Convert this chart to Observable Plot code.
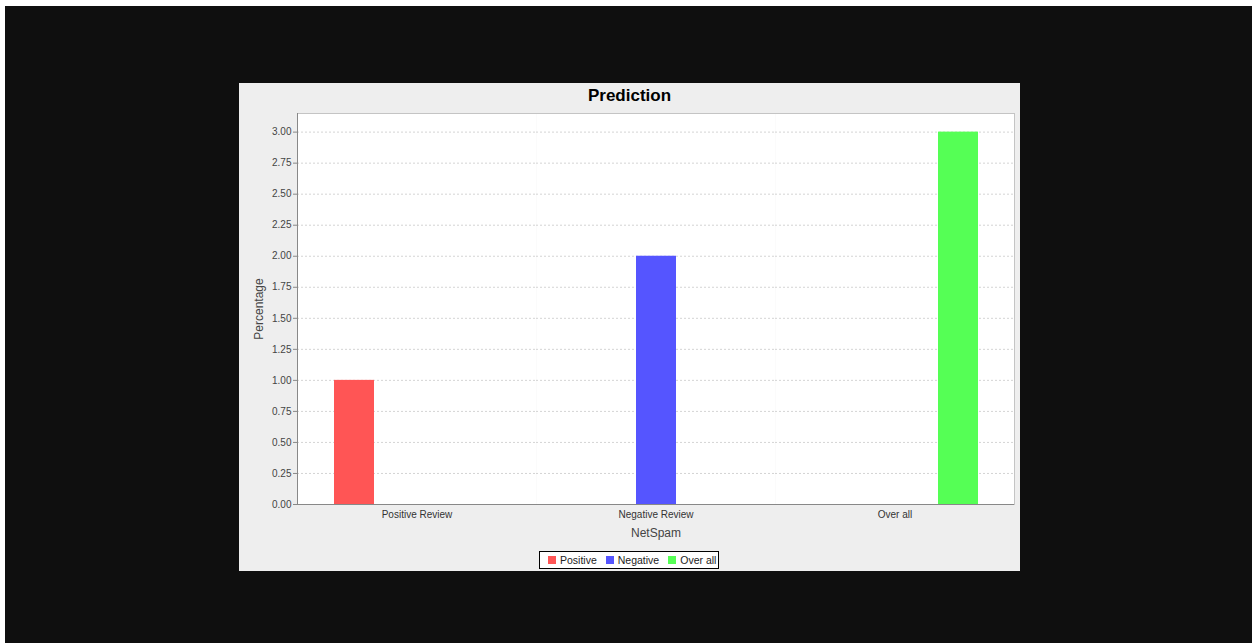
<!DOCTYPE html>
<html>
<head>
<meta charset="utf-8">
<script src="https://cdn.jsdelivr.net/npm/d3@7"></script>
<script src="https://cdn.jsdelivr.net/npm/@observablehq/plot@0.6"></script>
<style>
  html, body { margin: 0; padding: 0; background: #ffffff; width: 1252px; height: 643px; overflow: hidden; }
  #bg { position: absolute; left: 5px; top: 6px; width: 1247px; height: 637px; background: #0f0f0f; }
  #panel { position: absolute; left: 239px; top: 83px; width: 781px; height: 488px; background: #eeeeee; }
  #title { position: absolute; left: 0; top: 0; width: 781px; text-align: center; font: bold 17px "Liberation Sans", Arial, sans-serif; line-height: 26px; color: #000; }
  #chart { position: absolute; left: 0; top: 26px; }
  #legend { position: absolute; left: 300px; top: 468px; width: 178px; height: 16px; border: 1px solid #000; background: #ffffff;
            display: flex; align-items: center; font: 10.5px "Liberation Sans", Arial, sans-serif; color: #222; box-sizing: content-box; white-space: nowrap; }
  .item { display: flex; align-items: center; margin-left: 9px; white-space: nowrap; }
  .item:first-child { margin-left: 8px; }
  .sw { width: 8px; height: 8px; margin-right: 4px; flex: none; }
  g[aria-label="y-axis label"] text, g[aria-label="fx-axis label"] text { font-size: 12px; }
  g[aria-label="fx-axis tick label"] text { fill: #333; }
</style>
</head>
<body>
<div id="bg"></div>
<div id="panel">
  <div id="title">Prediction</div>
  <div id="chart"></div>
  <div id="legend"></div>
</div>
<script>
// ---- data ----
const categories = ["Positive Review", "Negative Review", "Over all"];
const series = ["Positive", "Negative", "Over all"];
const seriesColors = ["#ff5555", "#5555ff", "#55ff55"];
const rowCategory = ["Positive Review", "Negative Review", "Over all"];
const rowSeries = ["Positive", "Negative", "Over all"];
const rowValue = [1, 2, 3];
const yTicks = [0, 0.25, 0.5, 0.75, 1, 1.25, 1.5, 1.75, 2, 2.25, 2.5, 2.75, 3];

const data = rowValue.map((v, i) => ({category: rowCategory[i], series: rowSeries[i], value: v}));

const chart = Plot.plot({
  width: 781,
  height: 436,
  marginLeft: 58,
  marginRight: 6,
  marginTop: 4,
  marginBottom: 41,
  style: {background: "transparent", fontFamily: "'Liberation Sans', Arial, sans-serif", fontSize: "10px", color: "#444"},
  fx: {domain: categories, paddingInner: 0, paddingOuter: 0},
  x: {domain: series, paddingInner: 0.37, paddingOuter: 0.564, axis: null},
  y: {domain: [0, 3.15], label: "Percentage", labelArrow: "none"},
  color: {domain: series, range: seriesColors},
  marks: [
    Plot.frame({fill: "white", stroke: "none"}),
    Plot.ruleY(yTicks.slice(1), {stroke: "#d4d4d4", strokeDasharray: "2,2"}),
    Plot.barY(data, {fx: "category", x: "series", y: "value", fill: "series"}),
    Plot.axisY({ticks: yTicks, tickFormat: d3.format(".2f"), tickSize: 4, tickPadding: 2,
                label: "Percentage", labelArrow: "none", labelAnchor: "center", labelOffset: 43, stroke: "#888"}),
    Plot.axisFx({anchor: "bottom", tickSize: 0, tickPadding: 6, label: "NetSpam", labelArrow: "none", labelAnchor: "center", labelOffset: 32}),
    Plot.frame({anchor: "top", stroke: "#c4c4c4"}),
    Plot.frame({anchor: "right", facetAnchor: "right", stroke: "#c4c4c4"}),
    Plot.frame({anchor: "left", facetAnchor: "left", stroke: "#888"}),
    Plot.ruleY([0], {stroke: "#888"})
  ]
});
document.getElementById("chart").appendChild(chart);

// ---- legend ----
const legend = document.getElementById("legend");
series.forEach((s, i) => {
  const item = document.createElement("div");
  item.className = "item";
  const sw = document.createElement("div");
  sw.className = "sw";
  sw.style.background = seriesColors[i];
  const t = document.createElement("span");
  t.textContent = s;
  item.appendChild(sw);
  item.appendChild(t);
  legend.appendChild(item);
});
</script>
</body>
</html>
